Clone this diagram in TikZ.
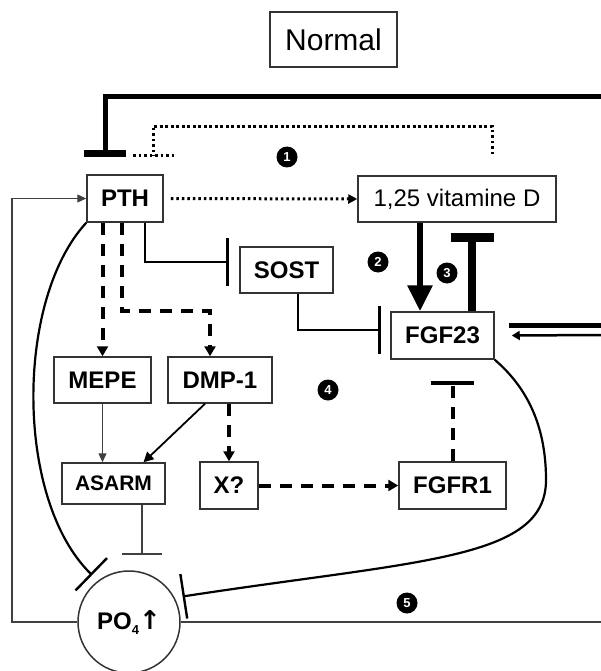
\documentclass[tikz,border=0pt]{standalone}
\usepackage{fontspec}
\setmainfont{Liberation Sans}
\newfontfamily\arrowfont{DejaVu Sans}
\usetikzlibrary{arrows.meta}
\begin{document}
\begin{tikzpicture}[x=1pt, y=-1pt]
        \tikzstyle{box}=[draw=black!80, line width=1.5pt, inner sep=0pt, font=\fontsize{24}{28}\selectfont]
        \tikzstyle{bbox}=[box, font=\bfseries\fontsize{24}{28}\selectfont]
        \tikzstyle{num}=[circle, fill=black, text=white, inner sep=0pt, minimum size=21pt, font=\bfseries\fontsize{13}{13}\selectfont]
        \tikzstyle{thinline}=[draw=black!75, line width=1.3pt]
        \tikzstyle{solidline}=[draw=black, line width=2.2pt]
        \tikzstyle{dashline}=[draw=black, line width=4pt, dash pattern=on 12pt off 9pt]
        \tikzstyle{dotline}=[draw=black, line width=3pt, dash pattern=on 2.6pt off 2.9pt]
        \tikzstyle{thickline}=[draw=black, line width=5pt]
        \useasboundingbox (0,0) rectangle (601,671);
        \node [box, minimum width=127, minimum height=55, font=\fontsize{30}{34}\selectfont] (normal) at (333.5,39.5) {Normal};
        \node [bbox, minimum width=76, minimum height=47] (pth) at (125,198.5) {PTH};
        \node [box, minimum width=198, minimum height=46] (vitd) at (457,199) {1,25 vitamine D};
        \node [bbox, minimum width=93, minimum height=46] (sost) at (286.5,270) {SOST};
        \node [bbox, minimum width=103, minimum height=47] (fgf) at (442.5,335.5) {FGF23};
        \node [bbox, minimum width=97, minimum height=46] (mepe) at (102.5,380) {MEPE};
        \node [bbox, minimum width=104, minimum height=46] (dmp) at (220,380) {DMP-1};
        \node [bbox, minimum width=103, minimum height=41, font=\bfseries\fontsize{21}{24}\selectfont] (asarm) at (113.5,483.5) {ASARM};
        \node [bbox, minimum width=58, minimum height=47] (xq) at (229,485.5) {X?};
        \node [bbox, minimum width=107, minimum height=47] (fgfr) at (452.5,485.5) {FGFR1};
        \node [circle, draw=black!80, line width=1.5pt, minimum size=102, inner sep=0pt, font=\bfseries\fontsize{24}{28}\selectfont] (po) at (129,622) {PO\raisebox{-5pt}{\fontsize{13}{13}\selectfont 4}{\arrowfont\fontsize{26}{28}\selectfont ↑}};
        \node [num] (n1) at (287,157) {1};
        \node [num] (n2) at (378,262) {2};
        \node [num] (n3) at (447,273) {3};
        \node [num] (n4) at (328,390) {4};
        \node [num] (n5) at (407,603) {5};
        \coordinate (topE) at (601,97);
        \coordinate (pthBar) at (105,157);
        \coordinate (dotBar) at (153,156);
        \coordinate (poE) at (601,622);
        \coordinate (leftC) at (12,622);
        \coordinate (fgfIn) at (601,325);
        \coordinate (fgfOut) at (601,335);
        \draw [thickline, -{Bar[width=42pt,line width=7pt]}] (topE) -| (pthBar);
        \draw [dotline] ([xshift=35pt,yshift=21pt]vitd.north) -- ++(0,-28) -| (dotBar);
        \draw [dotline] ([xshift=-20pt]dotBar) -- ([xshift=22pt]dotBar);
        \draw [dotline, -{Triangle[length=9pt,width=9pt]}, shorten <=7pt] (pth.east) -- (vitd.west);
        \draw [thinline, -{Triangle[length=9pt,width=8pt]}] (po) -- (leftC) |- (pth.west);
        \draw [thinline] (po) -- (poE);
        \draw [solidline, -{Bar[width=48pt,line width=3pt]}, shorten >=10pt] ([xshift=20pt]pth.south) |- ([yshift=8pt]sost.west);
        \draw [solidline, -{Bar[width=48pt,line width=3pt]}, shorten >=9pt] ([xshift=11.5pt]sost.south) |- ([yshift=5.5pt]fgf.west);
        \draw [line width=6pt, -{Triangle[length=26pt,width=24pt]}] ([xshift=-37pt]vitd.south) -- ([xshift=-22.5pt]fgf.north);
        \draw [line width=8pt, -{Bar[width=43pt,line width=9pt]}, shorten >=10pt] ([xshift=29.5pt]fgf.north) -- ([xshift=15pt]vitd.south);
        \draw [dashline, -{Triangle[length=10pt,width=11pt]}] (mepe.north |- pth.south) -- (mepe);
        \draw [dashline, -{Triangle[length=10pt,width=11pt]}] ([xshift=-3pt]pth.south) -- ++(0,88) -| ([xshift=-10pt]dmp.north);
        \draw [thinline, -{Triangle[length=9pt,width=8pt]}] (mepe) -- (mepe.south |- asarm.north);
        \draw [solidline, line width=1.8pt, -{Triangle[length=10pt,width=10pt]}] ([xshift=-15pt]dmp.south) -- ([xshift=30pt]asarm.north);
        \draw [dashline, -{Triangle[length=10pt,width=11pt]}] (xq.north |- dmp.south) -- (xq);
        \draw [dashline, -{Triangle[length=10pt,width=11pt]}] (xq) -- (fgfr);
        \draw [dashline, -{Bar[width=43pt,line width=4pt]}, shorten >=21pt] (fgfr) -- (fgfr.north |- fgf.south);
        \draw [thinline, -{Bar[width=40pt,line width=2pt]}, shorten >=16pt] ([xshift=28.5pt]asarm.south) -- ++(0,66);
        \draw [solidline, -{Bar[width=45pt,line width=2.4pt]}, shorten >=8pt] (pth.south west) .. controls (15,300) and (15,500) .. (po.127);
        \draw [solidline, -{Bar[width=45pt,line width=2.4pt]}, shorten >=8pt] (fgf.south east) .. controls (530,390) and (546,430) .. (546,480) .. controls (546,560) and (420,560) .. (po.28);
        \draw [thickline] (fgfIn) -- ([xshift=14pt,yshift=10.5pt]fgf.east);
        \draw [line width=2.5pt, -{Triangle[length=8pt,width=9pt]}] (fgfOut) -- ([xshift=17pt]fgf.east);
\end{tikzpicture}
\end{document}
